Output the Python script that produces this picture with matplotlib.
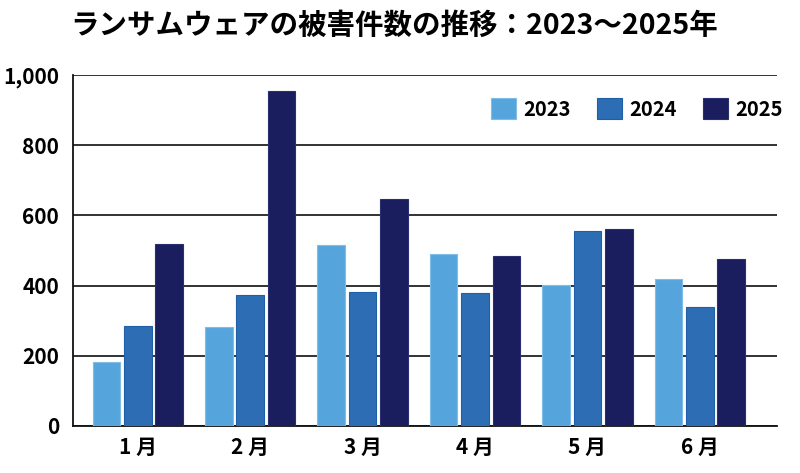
import matplotlib.pyplot as plt
import numpy as np

plt.rcParams['font.family'] = ['Noto Sans CJK JP', 'DejaVu Sans']

months = ["1 月", "2 月", "3 月", "4 月", "5 月", "6 月"]
years = ["2023", "2024", "2025"]
v2023 = [182, 283, 515, 491, 401, 418]
v2024 = [284, 372, 382, 379, 556, 339]
v2025 = [517, 954, 647, 484, 560, 476]

colors = ["#55a5dc", "#2d6db3", "#1a1e5e"]
edges = ["#7fbde8", "#1f5fa8", "#2a2f72"]

fig = plt.figure(figsize=(8, 4.73), dpi=100)
ax = fig.add_axes([0.091, 0.100, 0.880, 0.741])

x = np.arange(len(months))
step = 0.279
width = 0.246
for i, (vals, yr) in enumerate(zip([v2023, v2024, v2025], years)):
    ax.bar(x + (i - 1) * step, vals, width, color=colors[i], edgecolor=edges[i],
           linewidth=0.8, label=yr, zorder=3)

ax.set_ylim(0, 1000)
ax.set_xlim(-0.578, 5.685)
ax.set_yticks(range(0, 1001, 200))
ax.set_yticklabels(["0", "200", "400", "600", "800", "1,000"])
ax.set_xticks(x)
ax.set_xticklabels(months, fontweight="bold", fontsize=15)
ax.tick_params(axis="y", length=0, pad=10, labelsize=15)
ax.tick_params(axis="x", length=0, pad=8)
for lab in ax.get_yticklabels():
    lab.set_fontweight("semibold")

ax.yaxis.grid(True, color="#222222", linewidth=1.3, zorder=0)
ax.set_axisbelow(True)
for s in ["top", "right"]:
    ax.spines[s].set_visible(False)
ax.spines["left"].set_color("#111111")
ax.spines["bottom"].set_color("#111111")
ax.spines["left"].set_linewidth(1.3)
ax.spines["bottom"].set_linewidth(1.3)

leg = fig.legend(loc="center right", bbox_to_anchor=(0.996, 0.770), ncol=3, frameon=False,
                 handlelength=1.25, handleheight=1.25, handletextpad=0.35, columnspacing=1.3,
                 borderpad=0.2, prop={"size": 14.5, "weight": "semibold"})

fig.text(0.4925, 0.945, "ランサムウェアの被害件数の推移：2023～2025年", ha="center", va="center",
         fontsize=20.5, fontweight="bold")

fig.savefig("out.png", dpi=100)
